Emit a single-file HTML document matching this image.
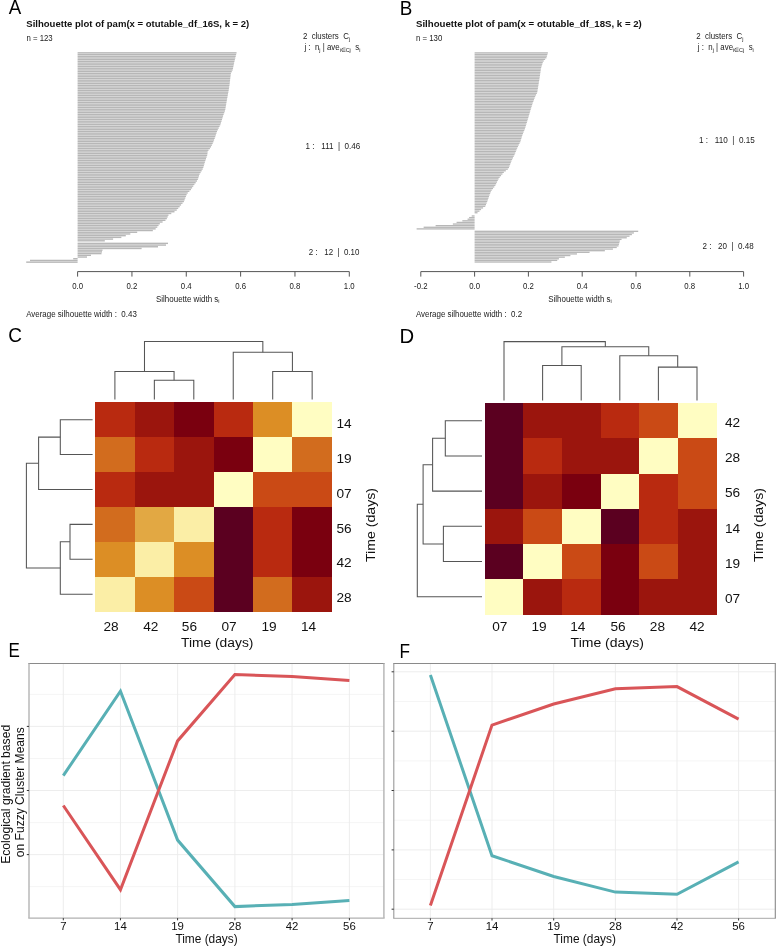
<!DOCTYPE html>
<html><head><meta charset="utf-8"><title>Figure</title>
<style>
html,body{margin:0;padding:0;background:#fff;}
body{width:776px;height:946px;overflow:hidden;}
svg{display:block;will-change:transform;}
text{font-family:"Liberation Sans",sans-serif;}
</style></head>
<body>
<svg width="776" height="946" viewBox="0 0 776 946" style="font-family:'Liberation Sans',sans-serif">
<rect x="0" y="0" width="776" height="946" fill="#fff"/>
<text x="8.66" y="13.80" font-size="19.8" textLength="12.49" lengthAdjust="spacingAndGlyphs" fill="#000">A</text>
<text x="399.66" y="14.70" font-size="19.8" textLength="12.56" lengthAdjust="spacingAndGlyphs" fill="#000">B</text>
<text x="8.33" y="342.00" font-size="20.2" textLength="13.71" lengthAdjust="spacingAndGlyphs" fill="#000">C</text>
<text x="399.44" y="342.80" font-size="19.8" textLength="14.66" lengthAdjust="spacingAndGlyphs" fill="#000">D</text>
<text x="8.61" y="657.40" font-size="20.2" textLength="11.34" lengthAdjust="spacingAndGlyphs" fill="#000">E</text>
<text x="399.39" y="658.20" font-size="19.8" textLength="10.51" lengthAdjust="spacingAndGlyphs" fill="#000">F</text>
<g fill="#b7b7b7"><rect x="77.60" y="52.15" width="158.96" height="1.409"/><rect x="77.60" y="53.86" width="158.54" height="1.409"/><rect x="77.60" y="55.57" width="158.12" height="1.409"/><rect x="77.60" y="57.28" width="157.70" height="1.409"/><rect x="77.60" y="58.98" width="157.27" height="1.409"/><rect x="77.60" y="60.69" width="156.85" height="1.409"/><rect x="77.60" y="62.40" width="156.49" height="1.409"/><rect x="77.60" y="64.11" width="156.13" height="1.409"/><rect x="77.60" y="65.82" width="155.78" height="1.409"/><rect x="77.60" y="67.53" width="155.43" height="1.409"/><rect x="77.60" y="69.24" width="155.03" height="1.409"/><rect x="77.60" y="70.94" width="154.15" height="1.409"/><rect x="77.60" y="72.65" width="153.29" height="1.409"/><rect x="77.60" y="74.36" width="153.09" height="1.409"/><rect x="77.60" y="76.07" width="152.88" height="1.409"/><rect x="77.60" y="77.78" width="152.67" height="1.409"/><rect x="77.60" y="79.49" width="152.47" height="1.409"/><rect x="77.60" y="81.19" width="152.26" height="1.409"/><rect x="77.60" y="82.90" width="152.06" height="1.409"/><rect x="77.60" y="84.61" width="151.84" height="1.409"/><rect x="77.60" y="86.32" width="151.57" height="1.409"/><rect x="77.60" y="88.03" width="151.31" height="1.409"/><rect x="77.60" y="89.74" width="151.04" height="1.409"/><rect x="77.60" y="91.45" width="150.73" height="1.409"/><rect x="77.60" y="93.15" width="150.42" height="1.409"/><rect x="77.60" y="94.86" width="150.11" height="1.409"/><rect x="77.60" y="96.57" width="149.80" height="1.409"/><rect x="77.60" y="98.28" width="149.49" height="1.409"/><rect x="77.60" y="99.99" width="149.18" height="1.409"/><rect x="77.60" y="101.70" width="148.89" height="1.409"/><rect x="77.60" y="103.41" width="148.60" height="1.409"/><rect x="77.60" y="105.11" width="148.30" height="1.409"/><rect x="77.60" y="106.82" width="148.01" height="1.409"/><rect x="77.60" y="108.53" width="147.72" height="1.409"/><rect x="77.60" y="110.24" width="147.33" height="1.409"/><rect x="77.60" y="111.95" width="146.69" height="1.409"/><rect x="77.60" y="113.66" width="146.04" height="1.409"/><rect x="77.60" y="115.36" width="145.47" height="1.409"/><rect x="77.60" y="117.07" width="144.94" height="1.409"/><rect x="77.60" y="118.78" width="144.42" height="1.409"/><rect x="77.60" y="120.49" width="143.89" height="1.409"/><rect x="77.60" y="122.20" width="143.36" height="1.409"/><rect x="77.60" y="123.91" width="142.79" height="1.409"/><rect x="77.60" y="125.62" width="141.94" height="1.409"/><rect x="77.60" y="127.32" width="141.09" height="1.409"/><rect x="77.60" y="129.03" width="140.23" height="1.409"/><rect x="77.60" y="130.74" width="139.39" height="1.409"/><rect x="77.60" y="132.45" width="138.82" height="1.409"/><rect x="77.60" y="134.16" width="138.26" height="1.409"/><rect x="77.60" y="135.87" width="137.70" height="1.409"/><rect x="77.60" y="137.58" width="137.14" height="1.409"/><rect x="77.60" y="139.28" width="136.48" height="1.409"/><rect x="77.60" y="140.99" width="135.81" height="1.409"/><rect x="77.60" y="142.70" width="135.10" height="1.409"/><rect x="77.60" y="144.41" width="134.27" height="1.409"/><rect x="77.60" y="146.12" width="133.43" height="1.409"/><rect x="77.60" y="147.83" width="132.31" height="1.409"/><rect x="77.60" y="149.53" width="130.90" height="1.409"/><rect x="77.60" y="151.24" width="130.02" height="1.409"/><rect x="77.60" y="152.95" width="129.84" height="1.409"/><rect x="77.60" y="154.66" width="129.57" height="1.409"/><rect x="77.60" y="156.37" width="128.99" height="1.409"/><rect x="77.60" y="158.08" width="128.40" height="1.409"/><rect x="77.60" y="159.79" width="127.81" height="1.409"/><rect x="77.60" y="161.49" width="127.28" height="1.409"/><rect x="77.60" y="163.20" width="126.77" height="1.409"/><rect x="77.60" y="164.91" width="126.26" height="1.409"/><rect x="77.60" y="166.62" width="125.75" height="1.409"/><rect x="77.60" y="168.33" width="125.08" height="1.409"/><rect x="77.60" y="170.04" width="124.05" height="1.409"/><rect x="77.60" y="171.75" width="123.02" height="1.409"/><rect x="77.60" y="173.45" width="121.99" height="1.409"/><rect x="77.60" y="175.16" width="121.39" height="1.409"/><rect x="77.60" y="176.87" width="120.83" height="1.409"/><rect x="77.60" y="178.58" width="120.27" height="1.409"/><rect x="77.60" y="180.29" width="119.34" height="1.409"/><rect x="77.60" y="182.00" width="118.07" height="1.409"/><rect x="77.60" y="183.70" width="116.83" height="1.409"/><rect x="77.60" y="185.41" width="115.68" height="1.409"/><rect x="77.60" y="187.12" width="114.53" height="1.409"/><rect x="77.60" y="188.83" width="113.38" height="1.409"/><rect x="77.60" y="190.54" width="111.79" height="1.409"/><rect x="77.60" y="192.25" width="110.13" height="1.409"/><rect x="77.60" y="193.96" width="109.03" height="1.409"/><rect x="77.60" y="195.66" width="108.36" height="1.409"/><rect x="77.60" y="197.37" width="107.69" height="1.409"/><rect x="77.60" y="199.08" width="107.03" height="1.409"/><rect x="77.60" y="200.79" width="106.32" height="1.409"/><rect x="77.60" y="202.50" width="104.91" height="1.409"/><rect x="77.60" y="204.21" width="103.49" height="1.409"/><rect x="77.60" y="205.92" width="102.08" height="1.409"/><rect x="77.60" y="207.62" width="100.62" height="1.409"/><rect x="77.60" y="209.33" width="99.14" height="1.409"/><rect x="77.60" y="211.04" width="96.91" height="1.409"/><rect x="77.60" y="212.75" width="93.71" height="1.409"/><rect x="77.60" y="214.46" width="90.88" height="1.409"/><rect x="77.60" y="216.17" width="90.08" height="1.409"/><rect x="77.60" y="217.87" width="89.27" height="1.409"/><rect x="77.60" y="219.58" width="87.88" height="1.409"/><rect x="77.60" y="221.29" width="85.00" height="1.409"/><rect x="77.60" y="223.00" width="82.22" height="1.409"/><rect x="77.60" y="224.71" width="80.95" height="1.409"/><rect x="77.60" y="226.42" width="79.68" height="1.409"/><rect x="77.60" y="228.13" width="78.07" height="1.409"/><rect x="77.60" y="229.83" width="75.23" height="1.409"/><rect x="77.60" y="231.54" width="59.59" height="1.409"/><rect x="77.60" y="233.25" width="52.73" height="1.409"/><rect x="77.60" y="234.96" width="48.20" height="1.409"/><rect x="77.60" y="236.67" width="43.76" height="1.409"/><rect x="77.60" y="238.38" width="35.49" height="1.409"/><rect x="77.60" y="240.09" width="27.22" height="1.409"/><rect x="77.60" y="242.65" width="90.40" height="1.409"/><rect x="77.60" y="244.36" width="88.40" height="1.409"/><rect x="77.60" y="246.06" width="80.40" height="1.409"/><rect x="77.60" y="247.77" width="64.00" height="1.409"/><rect x="77.60" y="249.48" width="24.90" height="1.409"/><rect x="77.60" y="251.19" width="24.40" height="1.409"/><rect x="77.60" y="252.90" width="23.90" height="1.409"/><rect x="77.60" y="254.61" width="13.40" height="1.409"/><rect x="77.60" y="256.32" width="9.40" height="1.409"/><rect x="73.20" y="258.02" width="4.40" height="1.409"/><rect x="30.00" y="259.73" width="47.60" height="1.409"/><rect x="26.20" y="261.44" width="51.40" height="1.409"/></g>
<text x="26.30" y="27.10" font-size="9.5" font-weight="bold" textLength="223.00" lengthAdjust="spacingAndGlyphs" fill="#111">Silhouette plot of pam(x = otutable_df_16S, k = 2)</text>
<text x="26.40" y="41.20" font-size="8.4" textLength="26.28" lengthAdjust="spacingAndGlyphs" fill="#1a1a1a">n = 123</text>
<line x1="77.60" y1="271.60" x2="349.30" y2="271.60" stroke="#555" stroke-width="1.0"/>
<line x1="77.60" y1="271.60" x2="77.60" y2="276.60" stroke="#555" stroke-width="1.0"/>
<text x="77.60" y="288.80" font-size="8.4" text-anchor="middle" textLength="10.86" lengthAdjust="spacingAndGlyphs" fill="#1a1a1a">0.0</text>
<line x1="131.94" y1="271.60" x2="131.94" y2="276.60" stroke="#555" stroke-width="1.0"/>
<text x="131.94" y="288.80" font-size="8.4" text-anchor="middle" textLength="10.86" lengthAdjust="spacingAndGlyphs" fill="#1a1a1a">0.2</text>
<line x1="186.28" y1="271.60" x2="186.28" y2="276.60" stroke="#555" stroke-width="1.0"/>
<text x="186.28" y="288.80" font-size="8.4" text-anchor="middle" textLength="10.86" lengthAdjust="spacingAndGlyphs" fill="#1a1a1a">0.4</text>
<line x1="240.62" y1="271.60" x2="240.62" y2="276.60" stroke="#555" stroke-width="1.0"/>
<text x="240.62" y="288.80" font-size="8.4" text-anchor="middle" textLength="10.86" lengthAdjust="spacingAndGlyphs" fill="#1a1a1a">0.6</text>
<line x1="294.96" y1="271.60" x2="294.96" y2="276.60" stroke="#555" stroke-width="1.0"/>
<text x="294.96" y="288.80" font-size="8.4" text-anchor="middle" textLength="10.86" lengthAdjust="spacingAndGlyphs" fill="#1a1a1a">0.8</text>
<line x1="349.30" y1="271.60" x2="349.30" y2="276.60" stroke="#555" stroke-width="1.0"/>
<text x="349.30" y="288.80" font-size="8.4" text-anchor="middle" textLength="10.86" lengthAdjust="spacingAndGlyphs" fill="#1a1a1a">1.0</text>
<text x="187.80" y="301.60" font-size="8.4" text-anchor="middle" textLength="63.50" lengthAdjust="spacingAndGlyphs" fill="#1a1a1a">Silhouette width s<tspan font-size="5.8" dy="1.5">i</tspan></text>
<text x="26.20" y="317.30" font-size="8.4" textLength="110.62" lengthAdjust="spacingAndGlyphs" fill="#1a1a1a" xml:space="preserve">Average silhouette width :  0.43</text>
<g fill="#b7b7b7"><rect x="474.60" y="52.25" width="73.26" height="1.315"/><rect x="474.60" y="53.86" width="72.79" height="1.315"/><rect x="474.60" y="55.48" width="72.32" height="1.315"/><rect x="474.60" y="57.09" width="71.84" height="1.315"/><rect x="474.60" y="58.71" width="70.52" height="1.315"/><rect x="474.60" y="60.32" width="69.11" height="1.315"/><rect x="474.60" y="61.94" width="68.15" height="1.315"/><rect x="474.60" y="63.55" width="67.65" height="1.315"/><rect x="474.60" y="65.17" width="67.14" height="1.315"/><rect x="474.60" y="66.78" width="66.64" height="1.315"/><rect x="474.60" y="68.40" width="66.28" height="1.315"/><rect x="474.60" y="70.01" width="66.04" height="1.315"/><rect x="474.60" y="71.62" width="65.81" height="1.315"/><rect x="474.60" y="73.24" width="65.58" height="1.315"/><rect x="474.60" y="74.85" width="65.34" height="1.315"/><rect x="474.60" y="76.47" width="65.11" height="1.315"/><rect x="474.60" y="78.08" width="64.85" height="1.315"/><rect x="474.60" y="79.70" width="64.59" height="1.315"/><rect x="474.60" y="81.31" width="64.33" height="1.315"/><rect x="474.60" y="82.93" width="64.07" height="1.315"/><rect x="474.60" y="84.54" width="63.81" height="1.315"/><rect x="474.60" y="86.16" width="63.55" height="1.315"/><rect x="474.60" y="87.77" width="63.29" height="1.315"/><rect x="474.60" y="89.38" width="63.03" height="1.315"/><rect x="474.60" y="91.00" width="62.77" height="1.315"/><rect x="474.60" y="92.61" width="62.30" height="1.315"/><rect x="474.60" y="94.23" width="61.45" height="1.315"/><rect x="474.60" y="95.84" width="60.60" height="1.315"/><rect x="474.60" y="97.46" width="59.98" height="1.315"/><rect x="474.60" y="99.07" width="59.36" height="1.315"/><rect x="474.60" y="100.69" width="58.74" height="1.315"/><rect x="474.60" y="102.30" width="58.12" height="1.315"/><rect x="474.60" y="103.92" width="57.61" height="1.315"/><rect x="474.60" y="105.53" width="57.10" height="1.315"/><rect x="474.60" y="107.15" width="56.60" height="1.315"/><rect x="474.60" y="108.76" width="56.10" height="1.315"/><rect x="474.60" y="110.37" width="55.62" height="1.315"/><rect x="474.60" y="111.99" width="55.15" height="1.315"/><rect x="474.60" y="113.60" width="54.68" height="1.315"/><rect x="474.60" y="115.22" width="54.21" height="1.315"/><rect x="474.60" y="116.83" width="53.73" height="1.315"/><rect x="474.60" y="118.45" width="53.25" height="1.315"/><rect x="474.60" y="120.06" width="52.77" height="1.315"/><rect x="474.60" y="121.68" width="52.29" height="1.315"/><rect x="474.60" y="123.29" width="51.79" height="1.315"/><rect x="474.60" y="124.91" width="51.30" height="1.315"/><rect x="474.60" y="126.52" width="50.80" height="1.315"/><rect x="474.60" y="128.13" width="50.30" height="1.315"/><rect x="474.60" y="129.75" width="49.65" height="1.315"/><rect x="474.60" y="131.36" width="48.99" height="1.315"/><rect x="474.60" y="132.98" width="48.34" height="1.315"/><rect x="474.60" y="134.59" width="47.69" height="1.315"/><rect x="474.60" y="136.21" width="47.21" height="1.315"/><rect x="474.60" y="137.82" width="46.73" height="1.315"/><rect x="474.60" y="139.44" width="46.25" height="1.315"/><rect x="474.60" y="141.05" width="45.75" height="1.315"/><rect x="474.60" y="142.67" width="44.95" height="1.315"/><rect x="474.60" y="144.28" width="44.16" height="1.315"/><rect x="474.60" y="145.89" width="43.36" height="1.315"/><rect x="474.60" y="147.51" width="42.57" height="1.315"/><rect x="474.60" y="149.12" width="41.92" height="1.315"/><rect x="474.60" y="150.74" width="41.26" height="1.315"/><rect x="474.60" y="152.35" width="40.61" height="1.315"/><rect x="474.60" y="153.97" width="39.94" height="1.315"/><rect x="474.60" y="155.58" width="39.14" height="1.315"/><rect x="474.60" y="157.20" width="38.35" height="1.315"/><rect x="474.60" y="158.81" width="37.56" height="1.315"/><rect x="474.60" y="160.43" width="36.79" height="1.315"/><rect x="474.60" y="162.04" width="36.19" height="1.315"/><rect x="474.60" y="163.65" width="35.58" height="1.315"/><rect x="474.60" y="165.27" width="34.97" height="1.315"/><rect x="474.60" y="166.88" width="34.36" height="1.315"/><rect x="474.60" y="168.50" width="33.19" height="1.315"/><rect x="474.60" y="170.11" width="31.21" height="1.315"/><rect x="474.60" y="171.73" width="29.22" height="1.315"/><rect x="474.60" y="173.34" width="27.85" height="1.315"/><rect x="474.60" y="174.96" width="26.48" height="1.315"/><rect x="474.60" y="176.57" width="25.12" height="1.315"/><rect x="474.60" y="178.19" width="23.98" height="1.315"/><rect x="474.60" y="179.80" width="23.19" height="1.315"/><rect x="474.60" y="181.41" width="22.39" height="1.315"/><rect x="474.60" y="183.03" width="21.59" height="1.315"/><rect x="474.60" y="184.64" width="20.80" height="1.315"/><rect x="474.60" y="186.26" width="19.69" height="1.315"/><rect x="474.60" y="187.87" width="18.41" height="1.315"/><rect x="474.60" y="189.49" width="17.12" height="1.315"/><rect x="474.60" y="191.10" width="16.22" height="1.315"/><rect x="474.60" y="192.72" width="15.58" height="1.315"/><rect x="474.60" y="194.33" width="14.94" height="1.315"/><rect x="474.60" y="195.95" width="14.35" height="1.315"/><rect x="474.60" y="197.56" width="13.80" height="1.315"/><rect x="474.60" y="199.17" width="13.24" height="1.315"/><rect x="474.60" y="200.79" width="12.68" height="1.315"/><rect x="474.60" y="202.40" width="12.04" height="1.315"/><rect x="474.60" y="204.02" width="11.40" height="1.315"/><rect x="474.60" y="205.63" width="10.68" height="1.315"/><rect x="474.60" y="207.25" width="8.51" height="1.315"/><rect x="474.60" y="208.86" width="6.48" height="1.315"/><rect x="474.60" y="210.48" width="4.87" height="1.315"/><rect x="474.60" y="212.09" width="2.92" height="1.315"/><rect x="471.71" y="215.32" width="2.89" height="1.315"/><rect x="469.12" y="216.94" width="5.48" height="1.315"/><rect x="467.57" y="218.55" width="7.03" height="1.315"/><rect x="462.32" y="220.16" width="12.28" height="1.315"/><rect x="456.59" y="221.78" width="18.01" height="1.315"/><rect x="452.85" y="223.39" width="21.75" height="1.315"/><rect x="435.62" y="225.01" width="38.98" height="1.315"/><rect x="423.63" y="226.62" width="50.97" height="1.315"/><rect x="416.61" y="228.24" width="57.99" height="1.315"/><rect x="474.60" y="230.66" width="163.60" height="1.315"/><rect x="474.60" y="232.27" width="159.30" height="1.315"/><rect x="474.60" y="233.89" width="157.29" height="1.315"/><rect x="474.60" y="235.50" width="154.94" height="1.315"/><rect x="474.60" y="237.12" width="152.18" height="1.315"/><rect x="474.60" y="238.73" width="146.94" height="1.315"/><rect x="474.60" y="240.35" width="145.21" height="1.315"/><rect x="474.60" y="241.96" width="144.81" height="1.315"/><rect x="474.60" y="243.58" width="144.39" height="1.315"/><rect x="474.60" y="245.19" width="143.94" height="1.315"/><rect x="474.60" y="246.80" width="142.14" height="1.315"/><rect x="474.60" y="248.42" width="138.32" height="1.315"/><rect x="474.60" y="250.03" width="130.25" height="1.315"/><rect x="474.60" y="251.65" width="114.95" height="1.315"/><rect x="474.60" y="253.26" width="102.37" height="1.315"/><rect x="474.60" y="254.88" width="95.80" height="1.315"/><rect x="474.60" y="256.49" width="90.25" height="1.315"/><rect x="474.60" y="258.11" width="84.33" height="1.315"/><rect x="474.60" y="259.72" width="82.62" height="1.315"/><rect x="474.60" y="261.34" width="76.83" height="1.315"/></g>
<text x="416.00" y="27.10" font-size="9.5" font-weight="bold" textLength="225.80" lengthAdjust="spacingAndGlyphs" fill="#111">Silhouette plot of pam(x = otutable_df_18S, k = 2)</text>
<text x="416.00" y="41.20" font-size="8.4" textLength="26.28" lengthAdjust="spacingAndGlyphs" fill="#1a1a1a">n = 130</text>
<line x1="420.80" y1="271.60" x2="743.60" y2="271.60" stroke="#555" stroke-width="1.0"/>
<line x1="420.80" y1="271.60" x2="420.80" y2="276.60" stroke="#555" stroke-width="1.0"/>
<text x="420.80" y="288.80" font-size="8.4" text-anchor="middle" textLength="13.46" lengthAdjust="spacingAndGlyphs" fill="#1a1a1a">-0.2</text>
<line x1="474.60" y1="271.60" x2="474.60" y2="276.60" stroke="#555" stroke-width="1.0"/>
<text x="474.60" y="288.80" font-size="8.4" text-anchor="middle" textLength="10.86" lengthAdjust="spacingAndGlyphs" fill="#1a1a1a">0.0</text>
<line x1="528.40" y1="271.60" x2="528.40" y2="276.60" stroke="#555" stroke-width="1.0"/>
<text x="528.40" y="288.80" font-size="8.4" text-anchor="middle" textLength="10.86" lengthAdjust="spacingAndGlyphs" fill="#1a1a1a">0.2</text>
<line x1="582.20" y1="271.60" x2="582.20" y2="276.60" stroke="#555" stroke-width="1.0"/>
<text x="582.20" y="288.80" font-size="8.4" text-anchor="middle" textLength="10.86" lengthAdjust="spacingAndGlyphs" fill="#1a1a1a">0.4</text>
<line x1="636.00" y1="271.60" x2="636.00" y2="276.60" stroke="#555" stroke-width="1.0"/>
<text x="636.00" y="288.80" font-size="8.4" text-anchor="middle" textLength="10.86" lengthAdjust="spacingAndGlyphs" fill="#1a1a1a">0.6</text>
<line x1="689.80" y1="271.60" x2="689.80" y2="276.60" stroke="#555" stroke-width="1.0"/>
<text x="689.80" y="288.80" font-size="8.4" text-anchor="middle" textLength="10.86" lengthAdjust="spacingAndGlyphs" fill="#1a1a1a">0.8</text>
<line x1="743.60" y1="271.60" x2="743.60" y2="276.60" stroke="#555" stroke-width="1.0"/>
<text x="743.60" y="288.80" font-size="8.4" text-anchor="middle" textLength="10.86" lengthAdjust="spacingAndGlyphs" fill="#1a1a1a">1.0</text>
<text x="580.00" y="301.60" font-size="8.4" text-anchor="middle" textLength="63.50" lengthAdjust="spacingAndGlyphs" fill="#1a1a1a">Silhouette width s<tspan font-size="5.8" dy="1.5">i</tspan></text>
<text x="415.90" y="317.30" font-size="8.4" textLength="106.20" lengthAdjust="spacingAndGlyphs" fill="#1a1a1a" xml:space="preserve">Average silhouette width :  0.2</text>
<text x="302.90" y="38.90" font-size="8.2" textLength="47.20" lengthAdjust="spacingAndGlyphs" fill="#1a1a1a" xml:space="preserve">2  clusters  C<tspan font-size="5.7" dy="1.7">j</tspan></text>
<text x="304.40" y="50.30" font-size="8.2" textLength="56.00" lengthAdjust="spacingAndGlyphs" fill="#1a1a1a" xml:space="preserve">j :  n<tspan font-size="5.7" dy="1.7">j</tspan><tspan dy="-1.7"> | ave</tspan><tspan font-size="5.7" dy="1.7">i∈Cj</tspan><tspan dy="-1.7">  s</tspan><tspan font-size="5.7" dy="1.7">i</tspan></text>
<text x="305.60" y="149.00" font-size="8.3" textLength="54.70" lengthAdjust="spacingAndGlyphs" fill="#222" xml:space="preserve">1 :   111  |  0.46</text>
<text x="308.80" y="254.80" font-size="8.3" textLength="50.60" lengthAdjust="spacingAndGlyphs" fill="#222" xml:space="preserve">2 :   12  |  0.10</text>
<text x="696.20" y="38.90" font-size="8.2" textLength="47.20" lengthAdjust="spacingAndGlyphs" fill="#1a1a1a" xml:space="preserve">2  clusters  C<tspan font-size="5.7" dy="1.7">j</tspan></text>
<text x="697.80" y="50.30" font-size="8.2" textLength="56.00" lengthAdjust="spacingAndGlyphs" fill="#1a1a1a" xml:space="preserve">j :  n<tspan font-size="5.7" dy="1.7">j</tspan><tspan dy="-1.7"> | ave</tspan><tspan font-size="5.7" dy="1.7">i∈Cj</tspan><tspan dy="-1.7">  s</tspan><tspan font-size="5.7" dy="1.7">i</tspan></text>
<text x="699.00" y="143.10" font-size="8.3" textLength="55.80" lengthAdjust="spacingAndGlyphs" fill="#222" xml:space="preserve">1 :   110  |  0.15</text>
<text x="702.50" y="248.90" font-size="8.3" textLength="51.20" lengthAdjust="spacingAndGlyphs" fill="#222" xml:space="preserve">2 :   20  |  0.48</text>
<g shape-rendering="crispEdges"><rect x="95.20" y="402.20" width="39.85" height="35.30" fill="#b92a10"/><rect x="134.65" y="402.20" width="39.85" height="35.30" fill="#9b150d"/><rect x="174.10" y="402.20" width="39.85" height="35.30" fill="#7a000f"/><rect x="213.55" y="402.20" width="39.85" height="35.30" fill="#b92a10"/><rect x="253.00" y="402.20" width="39.85" height="35.30" fill="#dc8e25"/><rect x="292.45" y="402.20" width="39.85" height="35.30" fill="#fffdc2"/><rect x="95.20" y="437.10" width="39.85" height="35.30" fill="#d26c1e"/><rect x="134.65" y="437.10" width="39.85" height="35.30" fill="#b92a10"/><rect x="174.10" y="437.10" width="39.85" height="35.30" fill="#9b150d"/><rect x="213.55" y="437.10" width="39.85" height="35.30" fill="#7a000f"/><rect x="253.00" y="437.10" width="39.85" height="35.30" fill="#fffdc2"/><rect x="292.45" y="437.10" width="39.85" height="35.30" fill="#d26c1e"/><rect x="95.20" y="472.00" width="39.85" height="35.30" fill="#b92a10"/><rect x="134.65" y="472.00" width="39.85" height="35.30" fill="#9b150d"/><rect x="174.10" y="472.00" width="39.85" height="35.30" fill="#9b150d"/><rect x="213.55" y="472.00" width="39.85" height="35.30" fill="#fffdc2"/><rect x="253.00" y="472.00" width="39.85" height="35.30" fill="#ca4a15"/><rect x="292.45" y="472.00" width="39.85" height="35.30" fill="#ca4a15"/><rect x="95.20" y="506.90" width="39.85" height="35.30" fill="#d26c1e"/><rect x="134.65" y="506.90" width="39.85" height="35.30" fill="#e2a843"/><rect x="174.10" y="506.90" width="39.85" height="35.30" fill="#fbeea6"/><rect x="213.55" y="506.90" width="39.85" height="35.30" fill="#5b0020"/><rect x="253.00" y="506.90" width="39.85" height="35.30" fill="#b92a10"/><rect x="292.45" y="506.90" width="39.85" height="35.30" fill="#7a000f"/><rect x="95.20" y="541.80" width="39.85" height="35.30" fill="#dc8e25"/><rect x="134.65" y="541.80" width="39.85" height="35.30" fill="#fbeea6"/><rect x="174.10" y="541.80" width="39.85" height="35.30" fill="#dc8e25"/><rect x="213.55" y="541.80" width="39.85" height="35.30" fill="#5b0020"/><rect x="253.00" y="541.80" width="39.85" height="35.30" fill="#b92a10"/><rect x="292.45" y="541.80" width="39.85" height="35.30" fill="#7a000f"/><rect x="95.20" y="576.70" width="39.85" height="35.30" fill="#fbeea6"/><rect x="134.65" y="576.70" width="39.85" height="35.30" fill="#dc8e25"/><rect x="174.10" y="576.70" width="39.85" height="35.30" fill="#ca4a15"/><rect x="213.55" y="576.70" width="39.85" height="35.30" fill="#5b0020"/><rect x="253.00" y="576.70" width="39.85" height="35.30" fill="#d26c1e"/><rect x="292.45" y="576.70" width="39.85" height="35.30" fill="#9b150d"/></g>
<g shape-rendering="crispEdges"><rect x="484.70" y="403.10" width="39.02" height="35.62" fill="#5b0020"/><rect x="523.32" y="403.10" width="39.02" height="35.62" fill="#9b150d"/><rect x="561.93" y="403.10" width="39.02" height="35.62" fill="#9b150d"/><rect x="600.55" y="403.10" width="39.02" height="35.62" fill="#b92a10"/><rect x="639.17" y="403.10" width="39.02" height="35.62" fill="#ca4a15"/><rect x="677.78" y="403.10" width="39.02" height="35.62" fill="#fffdc2"/><rect x="484.70" y="438.32" width="39.02" height="35.62" fill="#5b0020"/><rect x="523.32" y="438.32" width="39.02" height="35.62" fill="#b92a10"/><rect x="561.93" y="438.32" width="39.02" height="35.62" fill="#9b150d"/><rect x="600.55" y="438.32" width="39.02" height="35.62" fill="#9b150d"/><rect x="639.17" y="438.32" width="39.02" height="35.62" fill="#fffdc2"/><rect x="677.78" y="438.32" width="39.02" height="35.62" fill="#ca4a15"/><rect x="484.70" y="473.53" width="39.02" height="35.62" fill="#5b0020"/><rect x="523.32" y="473.53" width="39.02" height="35.62" fill="#9b150d"/><rect x="561.93" y="473.53" width="39.02" height="35.62" fill="#7a000f"/><rect x="600.55" y="473.53" width="39.02" height="35.62" fill="#fffdc2"/><rect x="639.17" y="473.53" width="39.02" height="35.62" fill="#b92a10"/><rect x="677.78" y="473.53" width="39.02" height="35.62" fill="#ca4a15"/><rect x="484.70" y="508.75" width="39.02" height="35.62" fill="#9b150d"/><rect x="523.32" y="508.75" width="39.02" height="35.62" fill="#ca4a15"/><rect x="561.93" y="508.75" width="39.02" height="35.62" fill="#fffdc2"/><rect x="600.55" y="508.75" width="39.02" height="35.62" fill="#5b0020"/><rect x="639.17" y="508.75" width="39.02" height="35.62" fill="#b92a10"/><rect x="677.78" y="508.75" width="39.02" height="35.62" fill="#9b150d"/><rect x="484.70" y="543.97" width="39.02" height="35.62" fill="#5b0020"/><rect x="523.32" y="543.97" width="39.02" height="35.62" fill="#fffdc2"/><rect x="561.93" y="543.97" width="39.02" height="35.62" fill="#ca4a15"/><rect x="600.55" y="543.97" width="39.02" height="35.62" fill="#7a000f"/><rect x="639.17" y="543.97" width="39.02" height="35.62" fill="#ca4a15"/><rect x="677.78" y="543.97" width="39.02" height="35.62" fill="#9b150d"/><rect x="484.70" y="579.18" width="39.02" height="35.62" fill="#fffdc2"/><rect x="523.32" y="579.18" width="39.02" height="35.62" fill="#9b150d"/><rect x="561.93" y="579.18" width="39.02" height="35.62" fill="#b92a10"/><rect x="600.55" y="579.18" width="39.02" height="35.62" fill="#7a000f"/><rect x="639.17" y="579.18" width="39.02" height="35.62" fill="#9b150d"/><rect x="677.78" y="579.18" width="39.02" height="35.62" fill="#9b150d"/></g>
<path d="M154.35,399.60 L154.35,380.30 L193.80,380.30 L193.80,399.60" fill="none" stroke="#555" stroke-width="1.05"/>
<path d="M114.90,399.60 L114.90,371.50 L174.07,371.50 L174.07,380.30" fill="none" stroke="#555" stroke-width="1.05"/>
<path d="M272.70,399.60 L272.70,371.50 L312.15,371.50 L312.15,399.60" fill="none" stroke="#555" stroke-width="1.05"/>
<path d="M233.25,399.60 L233.25,352.30 L292.42,352.30 L292.42,371.50" fill="none" stroke="#555" stroke-width="1.05"/>
<path d="M144.49,371.50 L144.49,341.40 L262.84,341.40 L262.84,352.30" fill="none" stroke="#555" stroke-width="1.05"/>
<path d="M92.60,419.65 L60.30,419.65 L60.30,454.55 L92.60,454.55" fill="none" stroke="#555" stroke-width="1.05"/>
<path d="M60.30,437.10 L38.60,437.10 L38.60,489.45 L92.60,489.45" fill="none" stroke="#555" stroke-width="1.05"/>
<path d="M92.60,524.35 L70.00,524.35 L70.00,559.25 L92.60,559.25" fill="none" stroke="#555" stroke-width="1.05"/>
<path d="M70.00,541.80 L60.30,541.80 L60.30,594.15 L92.60,594.15" fill="none" stroke="#555" stroke-width="1.05"/>
<path d="M38.60,463.27 L26.40,463.27 L26.40,567.97 L60.30,567.97" fill="none" stroke="#555" stroke-width="1.05"/>
<path d="M658.40,400.50 L658.40,367.10 L697.00,367.10 L697.00,400.50" fill="none" stroke="#555" stroke-width="1.05"/>
<path d="M619.80,400.50 L619.80,355.80 L677.70,355.80 L677.70,367.10" fill="none" stroke="#555" stroke-width="1.05"/>
<path d="M542.60,400.50 L542.60,365.40 L581.20,365.40 L581.20,400.50" fill="none" stroke="#555" stroke-width="1.05"/>
<path d="M561.90,365.40 L561.90,346.80 L648.75,346.80 L648.75,355.80" fill="none" stroke="#555" stroke-width="1.05"/>
<path d="M504.00,400.50 L504.00,341.60 L605.33,341.60 L605.33,346.80" fill="none" stroke="#555" stroke-width="1.05"/>
<path d="M482.00,420.70 L445.30,420.70 L445.30,455.90 L482.00,455.90" fill="none" stroke="#555" stroke-width="1.05"/>
<path d="M445.30,438.30 L432.60,438.30 L432.60,491.10 L482.00,491.10" fill="none" stroke="#555" stroke-width="1.05"/>
<path d="M482.00,526.30 L443.40,526.30 L443.40,561.50 L482.00,561.50" fill="none" stroke="#555" stroke-width="1.05"/>
<path d="M432.60,464.70 L423.10,464.70 L423.10,543.90 L443.40,543.90" fill="none" stroke="#555" stroke-width="1.05"/>
<path d="M423.10,504.30 L417.30,504.30 L417.30,596.80 L482.00,596.80" fill="none" stroke="#555" stroke-width="1.05"/>
<text x="103.50" y="631.20" font-size="13.3" textLength="15.20" lengthAdjust="spacingAndGlyphs" fill="#111">28</text>
<text x="143.20" y="631.20" font-size="13.3" textLength="15.20" lengthAdjust="spacingAndGlyphs" fill="#111">42</text>
<text x="181.80" y="631.20" font-size="13.3" textLength="15.20" lengthAdjust="spacingAndGlyphs" fill="#111">56</text>
<text x="221.40" y="631.20" font-size="13.3" textLength="15.20" lengthAdjust="spacingAndGlyphs" fill="#111">07</text>
<text x="261.40" y="631.20" font-size="13.3" textLength="15.20" lengthAdjust="spacingAndGlyphs" fill="#111">19</text>
<text x="301.00" y="631.20" font-size="13.3" textLength="15.20" lengthAdjust="spacingAndGlyphs" fill="#111">14</text>
<text x="336.40" y="427.85" font-size="13.3" textLength="15.20" lengthAdjust="spacingAndGlyphs" fill="#111">14</text>
<text x="336.40" y="462.75" font-size="13.3" textLength="15.20" lengthAdjust="spacingAndGlyphs" fill="#111">19</text>
<text x="336.40" y="497.65" font-size="13.3" textLength="15.20" lengthAdjust="spacingAndGlyphs" fill="#111">07</text>
<text x="336.40" y="532.55" font-size="13.3" textLength="15.20" lengthAdjust="spacingAndGlyphs" fill="#111">56</text>
<text x="336.40" y="567.45" font-size="13.3" textLength="15.20" lengthAdjust="spacingAndGlyphs" fill="#111">42</text>
<text x="336.40" y="602.35" font-size="13.3" textLength="15.20" lengthAdjust="spacingAndGlyphs" fill="#111">28</text>
<text x="492.20" y="631.20" font-size="13.3" textLength="15.20" lengthAdjust="spacingAndGlyphs" fill="#111">07</text>
<text x="531.50" y="631.20" font-size="13.3" textLength="15.20" lengthAdjust="spacingAndGlyphs" fill="#111">19</text>
<text x="570.20" y="631.20" font-size="13.3" textLength="15.20" lengthAdjust="spacingAndGlyphs" fill="#111">14</text>
<text x="610.50" y="631.20" font-size="13.3" textLength="15.20" lengthAdjust="spacingAndGlyphs" fill="#111">56</text>
<text x="649.80" y="631.20" font-size="13.3" textLength="15.20" lengthAdjust="spacingAndGlyphs" fill="#111">28</text>
<text x="689.40" y="631.20" font-size="13.3" textLength="15.20" lengthAdjust="spacingAndGlyphs" fill="#111">42</text>
<text x="724.90" y="427.00" font-size="13.3" textLength="15.20" lengthAdjust="spacingAndGlyphs" fill="#111">42</text>
<text x="724.90" y="462.20" font-size="13.3" textLength="15.20" lengthAdjust="spacingAndGlyphs" fill="#111">28</text>
<text x="724.90" y="497.40" font-size="13.3" textLength="15.20" lengthAdjust="spacingAndGlyphs" fill="#111">56</text>
<text x="724.90" y="532.60" font-size="13.3" textLength="15.20" lengthAdjust="spacingAndGlyphs" fill="#111">14</text>
<text x="724.90" y="567.80" font-size="13.3" textLength="15.20" lengthAdjust="spacingAndGlyphs" fill="#111">19</text>
<text x="724.90" y="603.10" font-size="13.3" textLength="15.20" lengthAdjust="spacingAndGlyphs" fill="#111">07</text>
<text x="181.00" y="646.60" font-size="12.3" textLength="72.40" lengthAdjust="spacingAndGlyphs" fill="#111">Time (days)</text>
<text x="570.60" y="646.60" font-size="12.3" textLength="73.40" lengthAdjust="spacingAndGlyphs" fill="#111">Time (days)</text>
<text x="0" y="0" font-size="12.3" fill="#111" textLength="74" lengthAdjust="spacingAndGlyphs" transform="translate(375.0 562.0) rotate(-90)">Time (days)</text>
<text x="0" y="0" font-size="12.3" fill="#111" textLength="74" lengthAdjust="spacingAndGlyphs" transform="translate(763.2 562.0) rotate(-90)">Time (days)</text>
<line x1="29.0" y1="694.40" x2="383.9" y2="694.40" stroke="#f3f3f3" stroke-width="0.8"/><line x1="29.0" y1="758.50" x2="383.9" y2="758.50" stroke="#f3f3f3" stroke-width="0.8"/><line x1="29.0" y1="822.60" x2="383.9" y2="822.60" stroke="#f3f3f3" stroke-width="0.8"/><line x1="29.0" y1="886.60" x2="383.9" y2="886.60" stroke="#f3f3f3" stroke-width="0.8"/><line x1="29.0" y1="726.40" x2="383.9" y2="726.40" stroke="#ebebeb" stroke-width="0.9"/><line x1="29.0" y1="790.50" x2="383.9" y2="790.50" stroke="#ebebeb" stroke-width="0.9"/><line x1="29.0" y1="854.60" x2="383.9" y2="854.60" stroke="#ebebeb" stroke-width="0.9"/><line x1="63.30" y1="663.5" x2="63.30" y2="918.1" stroke="#ebebeb" stroke-width="0.9"/><line x1="120.45" y1="663.5" x2="120.45" y2="918.1" stroke="#ebebeb" stroke-width="0.9"/><line x1="177.60" y1="663.5" x2="177.60" y2="918.1" stroke="#ebebeb" stroke-width="0.9"/><line x1="234.90" y1="663.5" x2="234.90" y2="918.1" stroke="#ebebeb" stroke-width="0.9"/><line x1="292.10" y1="663.5" x2="292.10" y2="918.1" stroke="#ebebeb" stroke-width="0.9"/><line x1="349.40" y1="663.5" x2="349.40" y2="918.1" stroke="#ebebeb" stroke-width="0.9"/>
<polyline points="63.30,775.60 120.45,691.10 177.60,840.10 234.90,906.60 292.10,904.40 349.40,900.40" fill="none" stroke="#58b0b5" stroke-width="3" stroke-linejoin="miter"/>
<polyline points="63.30,805.50 120.45,889.70 177.60,740.90 234.90,674.60 292.10,676.60 349.40,680.50" fill="none" stroke="#d95558" stroke-width="3" stroke-linejoin="miter"/>
<line x1="28.25" y1="663.50" x2="384.65" y2="663.50" stroke="#8a8a8a" stroke-width="1.0"/>
<line x1="28.25" y1="918.10" x2="384.65" y2="918.10" stroke="#b0b0b0" stroke-width="1.4"/>
<line x1="29.00" y1="663.50" x2="29.00" y2="918.10" stroke="#b8b8b8" stroke-width="1.5"/>
<line x1="383.90" y1="663.50" x2="383.90" y2="918.10" stroke="#b8b8b8" stroke-width="1.5"/>
<line x1="26.80" y1="726.40" x2="29.00" y2="726.40" stroke="#333" stroke-width="1"/>
<line x1="26.80" y1="790.50" x2="29.00" y2="790.50" stroke="#333" stroke-width="1"/>
<line x1="26.80" y1="854.60" x2="29.00" y2="854.60" stroke="#333" stroke-width="1"/>
<line x1="63.30" y1="918.10" x2="63.30" y2="920.30" stroke="#333" stroke-width="1"/>
<line x1="120.45" y1="918.10" x2="120.45" y2="920.30" stroke="#333" stroke-width="1"/>
<line x1="177.60" y1="918.10" x2="177.60" y2="920.30" stroke="#333" stroke-width="1"/>
<line x1="234.90" y1="918.10" x2="234.90" y2="920.30" stroke="#333" stroke-width="1"/>
<line x1="292.10" y1="918.10" x2="292.10" y2="920.30" stroke="#333" stroke-width="1"/>
<line x1="349.40" y1="918.10" x2="349.40" y2="920.30" stroke="#333" stroke-width="1"/>
<text x="63.30" y="930.10" font-size="11.4" text-anchor="middle" fill="#111">7</text>
<text x="120.45" y="930.10" font-size="11.4" text-anchor="middle" fill="#111">14</text>
<text x="177.60" y="930.10" font-size="11.4" text-anchor="middle" fill="#111">19</text>
<text x="234.90" y="930.10" font-size="11.4" text-anchor="middle" fill="#111">28</text>
<text x="292.10" y="930.10" font-size="11.4" text-anchor="middle" fill="#111">42</text>
<text x="349.40" y="930.10" font-size="11.4" text-anchor="middle" fill="#111">56</text>
<text x="206.55" y="942.80" font-size="11.9" text-anchor="middle" fill="#111">Time (days)</text>
<line x1="393.8" y1="701.50" x2="775.3" y2="701.50" stroke="#f3f3f3" stroke-width="0.8"/><line x1="393.8" y1="760.90" x2="775.3" y2="760.90" stroke="#f3f3f3" stroke-width="0.8"/><line x1="393.8" y1="820.20" x2="775.3" y2="820.20" stroke="#f3f3f3" stroke-width="0.8"/><line x1="393.8" y1="879.50" x2="775.3" y2="879.50" stroke="#f3f3f3" stroke-width="0.8"/><line x1="393.8" y1="671.80" x2="775.3" y2="671.80" stroke="#ebebeb" stroke-width="0.9"/><line x1="393.8" y1="731.20" x2="775.3" y2="731.20" stroke="#ebebeb" stroke-width="0.9"/><line x1="393.8" y1="790.50" x2="775.3" y2="790.50" stroke="#ebebeb" stroke-width="0.9"/><line x1="393.8" y1="849.90" x2="775.3" y2="849.90" stroke="#ebebeb" stroke-width="0.9"/><line x1="393.8" y1="909.20" x2="775.3" y2="909.20" stroke="#ebebeb" stroke-width="0.9"/><line x1="430.40" y1="663.5" x2="430.40" y2="918.3" stroke="#ebebeb" stroke-width="0.9"/><line x1="492.00" y1="663.5" x2="492.00" y2="918.3" stroke="#ebebeb" stroke-width="0.9"/><line x1="553.70" y1="663.5" x2="553.70" y2="918.3" stroke="#ebebeb" stroke-width="0.9"/><line x1="615.40" y1="663.5" x2="615.40" y2="918.3" stroke="#ebebeb" stroke-width="0.9"/><line x1="677.00" y1="663.5" x2="677.00" y2="918.3" stroke="#ebebeb" stroke-width="0.9"/><line x1="738.60" y1="663.5" x2="738.60" y2="918.3" stroke="#ebebeb" stroke-width="0.9"/>
<polyline points="430.40,675.10 492.00,855.70 553.70,876.50 615.40,892.10 677.00,894.30 738.60,861.90" fill="none" stroke="#58b0b5" stroke-width="3" stroke-linejoin="miter"/>
<polyline points="430.40,905.40 492.00,725.10 553.70,704.00 615.40,688.80 677.00,686.60 738.60,719.10" fill="none" stroke="#d95558" stroke-width="3" stroke-linejoin="miter"/>
<line x1="393.25" y1="663.50" x2="775.85" y2="663.50" stroke="#8a8a8a" stroke-width="1.0"/>
<line x1="393.25" y1="918.30" x2="775.85" y2="918.30" stroke="#a8a8a8" stroke-width="1.0"/>
<line x1="393.80" y1="663.50" x2="393.80" y2="918.30" stroke="#999999" stroke-width="1.1"/>
<line x1="775.30" y1="663.50" x2="775.30" y2="918.30" stroke="#888888" stroke-width="1.1"/>
<line x1="391.60" y1="671.80" x2="393.80" y2="671.80" stroke="#333" stroke-width="1"/>
<line x1="391.60" y1="731.20" x2="393.80" y2="731.20" stroke="#333" stroke-width="1"/>
<line x1="391.60" y1="790.50" x2="393.80" y2="790.50" stroke="#333" stroke-width="1"/>
<line x1="391.60" y1="849.90" x2="393.80" y2="849.90" stroke="#333" stroke-width="1"/>
<line x1="391.60" y1="909.20" x2="393.80" y2="909.20" stroke="#333" stroke-width="1"/>
<line x1="430.40" y1="918.30" x2="430.40" y2="920.50" stroke="#333" stroke-width="1"/>
<line x1="492.00" y1="918.30" x2="492.00" y2="920.50" stroke="#333" stroke-width="1"/>
<line x1="553.70" y1="918.30" x2="553.70" y2="920.50" stroke="#333" stroke-width="1"/>
<line x1="615.40" y1="918.30" x2="615.40" y2="920.50" stroke="#333" stroke-width="1"/>
<line x1="677.00" y1="918.30" x2="677.00" y2="920.50" stroke="#333" stroke-width="1"/>
<line x1="738.60" y1="918.30" x2="738.60" y2="920.50" stroke="#333" stroke-width="1"/>
<text x="430.40" y="930.10" font-size="11.4" text-anchor="middle" fill="#111">7</text>
<text x="492.00" y="930.10" font-size="11.4" text-anchor="middle" fill="#111">14</text>
<text x="553.70" y="930.10" font-size="11.4" text-anchor="middle" fill="#111">19</text>
<text x="615.40" y="930.10" font-size="11.4" text-anchor="middle" fill="#111">28</text>
<text x="677.00" y="930.10" font-size="11.4" text-anchor="middle" fill="#111">42</text>
<text x="738.60" y="930.10" font-size="11.4" text-anchor="middle" fill="#111">56</text>
<text x="584.70" y="942.80" font-size="11.9" text-anchor="middle" fill="#111">Time (days)</text>
<text font-size="12" fill="#111" transform="translate(9.6 794.3) rotate(-90)" text-anchor="middle" textLength="139" lengthAdjust="spacingAndGlyphs">Ecological gradient based</text>
<text font-size="12" fill="#111" transform="translate(23.8 792.2) rotate(-90)" text-anchor="middle" textLength="130" lengthAdjust="spacingAndGlyphs">on Fuzzy Cluster Means</text>
</svg>
</body></html>
